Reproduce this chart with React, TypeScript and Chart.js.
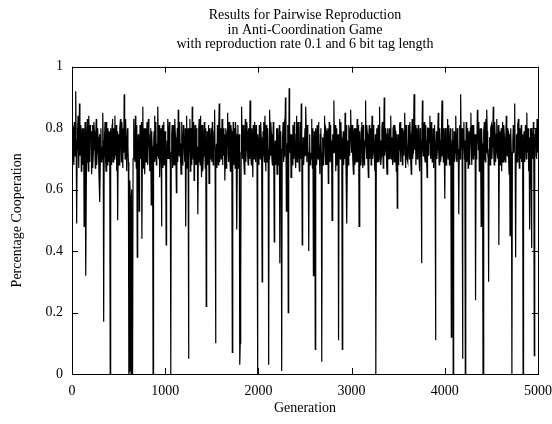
import React, { useEffect, useRef } from "react";
import { Chart, registerables } from "chart.js";

Chart.register(...registerables);

// Percentage cooperation read at generations 0, 10, 20, ... (per 500-generation block)
const gen0000: number[] = [
  0.72, 0.81, 0.68, 0.77, 0.92, 0.49, 0.79, 0.70, 0.88, 0.74,
  0.66, 0.80, 0.75, 0.48, 0.82, 0.32, 0.78, 0.71, 0.84, 0.69,
  0.76, 0.65, 0.81, 0.73, 0.79, 0.67, 0.83, 0.72, 0.77, 0.64,
  0.56, 0.80, 0.74, 0.85, 0.17, 0.78, 0.70, 0.82, 0.68, 0.76,
  0.79, 0.00, 0.75, 0.81, 0.69, 0.77, 0.84, 0.71, 0.66, 0.50,
];
const gen0500: number[] = [
  0.78, 0.72, 0.83, 0.69, 0.75, 0.80, 0.91, 0.70, 0.77, 0.66,
  0.74, 0.00, 0.63, 0.02, 0.60, 0.00, 0.79, 0.72, 0.84, 0.67,
  0.38, 0.78, 0.53, 0.81, 0.70, 0.44, 0.87, 0.73, 0.65, 0.80,
  0.76, 0.68, 0.83, 0.71, 0.78, 0.55, 0.74, 0.00, 0.79, 0.69,
  0.82, 0.75, 0.87, 0.70, 0.64, 0.77, 0.48, 0.81, 0.73, 0.68,
];
const gen1000: number[] = [
  0.79, 0.42, 0.76, 0.83, 0.70, 0.74, 0.00, 0.78, 0.67, 0.81,
  0.72, 0.77, 0.59, 0.80, 0.86, 0.71, 0.75, 0.65, 0.82, 0.73,
  0.78, 0.69, 0.48, 0.84, 0.74, 0.05, 0.79, 0.66, 0.76, 0.87,
  0.70, 0.63, 0.81, 0.75, 0.68, 0.52, 0.80, 0.72, 0.84, 0.64,
  0.77, 0.71, 0.82, 0.67, 0.22, 0.79, 0.73, 0.62, 0.80, 0.76,
];
const gen1500: number[] = [
  0.69, 0.78, 0.72, 0.86, 0.10, 0.75, 0.81, 0.68, 0.88, 0.74,
  0.70, 0.83, 0.77, 0.71, 0.63, 0.80, 0.73, 0.85, 0.69, 0.76,
  0.66, 0.79, 0.07, 0.82, 0.72, 0.67, 0.78, 0.47, 0.81, 0.74,
  0.03, 0.29, 0.87, 0.70, 0.77, 0.65, 0.83, 0.73, 0.79, 0.68,
  0.75, 0.89, 0.71, 0.80, 0.64, 0.76, 0.82, 0.69, 0.78, 0.00,
];
const gen2000: number[] = [
  0.74, 0.81, 0.70, 0.77, 0.30, 0.79, 0.72, 0.84, 0.66, 0.75,
  0.80, 0.03, 0.86, 0.71, 0.78, 0.68, 0.82, 0.43, 0.76, 0.73,
  0.65, 0.80, 0.74, 0.36, 0.79, 0.01, 0.77, 0.69, 0.83, 0.90,
  0.53, 0.75, 0.20, 0.93, 0.72, 0.64, 0.78, 0.81, 0.70, 0.76,
  0.67, 0.84, 0.73, 0.79, 0.66, 0.82, 0.88, 0.42, 0.77, 0.71,
];
const gen2500: number[] = [
  0.80, 0.87, 0.69, 0.75, 0.40, 0.78, 0.72, 0.83, 0.67, 0.32,
  0.79, 0.08, 0.74, 0.81, 0.70, 0.76, 0.65, 0.80, 0.04, 0.77,
  0.73, 0.84, 0.68, 0.79, 0.71, 0.62, 0.82, 0.75, 0.69, 0.50,
  0.78, 0.89, 0.72, 0.66, 0.80, 0.74, 0.11, 0.83, 0.70, 0.77,
  0.08, 0.79, 0.73, 0.85, 0.67, 0.49, 0.76, 0.81, 0.71, 0.86,
];
const gen3000: number[] = [
  0.72, 0.78, 0.65, 0.80, 0.74, 0.69, 0.83, 0.76, 0.48, 0.79,
  0.71, 0.82, 0.67, 0.77, 0.73, 0.89, 0.70, 0.78, 0.64, 0.81,
  0.75, 0.68, 0.84, 0.72, 0.79, 0.66, 0.00, 0.80, 0.74, 0.69,
  0.87, 0.76, 0.71, 0.82, 0.67, 0.90, 0.73, 0.78, 0.65, 0.80,
  0.75, 0.70, 0.84, 0.77, 0.68, 0.81, 0.72, 0.79, 0.66, 0.54,
];
const gen3500: number[] = [
  0.78, 0.73, 0.82, 0.69, 0.76, 0.80, 0.71, 0.85, 0.67, 0.77,
  0.74, 0.81, 0.70, 0.78, 0.65, 0.83, 0.72, 0.91, 0.75, 0.68,
  0.80, 0.73, 0.79, 0.66, 0.77, 0.36, 0.89, 0.71, 0.82, 0.69,
  0.76, 0.64, 0.80, 0.74, 0.84, 0.70, 0.78, 0.72, 0.67, 0.81,
  0.11, 0.79, 0.73, 0.85, 0.68, 0.76, 0.71, 0.89, 0.74, 0.80,
];
const gen4000: number[] = [
  0.57, 0.78, 0.70, 0.83, 0.75, 0.68, 0.80, 0.12, 0.76, 0.00,
  0.79, 0.72, 0.84, 0.69, 0.77, 0.52, 0.81, 0.91, 0.73, 0.05,
  0.78, 0.70, 0.00, 0.82, 0.74, 0.67, 0.79, 0.72, 0.85, 0.68,
  0.76, 0.81, 0.71, 0.24, 0.78, 0.86, 0.73, 0.66, 0.80, 0.48,
  0.75, 0.00, 0.79, 0.70, 0.83, 0.86, 0.72, 0.30, 0.77, 0.69,
];
const gen4500: number[] = [
  0.81, 0.74, 0.87, 0.68, 0.78, 0.72, 0.83, 0.70, 0.42, 0.79,
  0.75, 0.66, 0.82, 0.73, 0.77, 0.69, 0.84, 0.71, 0.79, 0.65,
  0.45, 0.80, 0.00, 0.76, 0.72, 0.88, 0.38, 0.78, 0.70, 0.83,
  0.67, 0.76, 0.81, 0.73, 0.00, 0.79, 0.69, 0.77, 0.85, 0.72,
  0.66, 0.47, 0.80, 0.41, 0.75, 0.82, 0.06, 0.78, 0.71, 0.83,
  0.72,
];

// Percentage cooperation read at generations 5, 15, 25, ... (per 500-generation block)
const mid0000: number[] = [
  0.69, 0.79, 0.82, 0.71, 0.76, 0.73, 0.84, 0.67, 0.71, 0.81,
  0.72, 0.68, 0.80, 0.70, 0.73, 0.69, 0.83, 0.66, 0.77, 0.81,
  0.79, 0.70, 0.67, 0.82, 0.74, 0.78, 0.68, 0.80, 0.71, 0.78,
  0.72, 0.69, 0.70, 0.76, 0.71, 0.82, 0.66, 0.75, 0.80, 0.69,
  0.72, 0.80, 0.68, 0.83, 0.80, 0.70, 0.76, 0.81, 0.79, 0.71,
];
const mid0500: number[] = [
  0.68, 0.80, 0.74, 0.82, 0.67, 0.72, 0.79, 0.83, 0.71, 0.80,
  0.69, 0.01, 0.58, 0.00, 0.04, 0.70, 0.83, 0.69, 0.76, 0.81,
  0.70, 0.73, 0.68, 0.77, 0.82, 0.71, 0.67, 0.80, 0.74, 0.69,
  0.82, 0.72, 0.78, 0.66, 0.80, 0.79, 0.70, 0.73, 0.84, 0.72,
  0.68, 0.71, 0.78, 0.81, 0.70, 0.80, 0.69, 0.67, 0.82, 0.75,
];
const mid1000: number[] = [
  0.71, 0.68, 0.70, 0.77, 0.82, 0.68, 0.72, 0.81, 0.73, 0.68,
  0.83, 0.70, 0.76, 0.69, 0.78, 0.82, 0.70, 0.79, 0.68, 0.81,
  0.72, 0.80, 0.71, 0.67, 0.80, 0.70, 0.83, 0.80, 0.68, 0.76,
  0.82, 0.71, 0.68, 0.80, 0.74, 0.69, 0.83, 0.68, 0.72, 0.81,
  0.66, 0.78, 0.73, 0.80, 0.70, 0.68, 0.81, 0.76, 0.70, 0.80,
];
const mid1500: number[] = [
  0.82, 0.68, 0.79, 0.72, 0.70, 0.67, 0.74, 0.81, 0.69, 0.80,
  0.73, 0.68, 0.80, 0.78, 0.71, 0.67, 0.79, 0.72, 0.82, 0.71,
  0.81, 0.70, 0.74, 0.68, 0.80, 0.82, 0.70, 0.73, 0.67, 0.78,
  0.10, 0.72, 0.75, 0.81, 0.70, 0.78, 0.69, 0.82, 0.71, 0.80,
  0.70, 0.76, 0.68, 0.73, 0.81, 0.70, 0.74, 0.81, 0.70, 0.78,
];
const mid2000: number[] = [
  0.68, 0.76, 0.82, 0.71, 0.70, 0.82, 0.69, 0.74, 0.81, 0.69,
  0.73, 0.70, 0.78, 0.82, 0.70, 0.76, 0.70, 0.72, 0.68, 0.80,
  0.73, 0.68, 0.81, 0.72, 0.70, 0.73, 0.82, 0.71, 0.74, 0.80,
  0.70, 0.81, 0.68, 0.80, 0.78, 0.70, 0.68, 0.77, 0.82, 0.70,
  0.78, 0.69, 0.82, 0.71, 0.74, 0.70, 0.75, 0.70, 0.68, 0.75,
];
const mid2500: number[] = [
  0.71, 0.78, 0.81, 0.70, 0.72, 0.68, 0.70, 0.74, 0.80, 0.71,
  0.73, 0.80, 0.68, 0.73, 0.82, 0.70, 0.78, 0.72, 0.71, 0.68,
  0.78, 0.72, 0.80, 0.68, 0.80, 0.73, 0.69, 0.81, 0.76, 0.70,
  0.72, 0.76, 0.81, 0.72, 0.68, 0.78, 0.70, 0.74, 0.82, 0.70,
  0.72, 0.68, 0.70, 0.78, 0.81, 0.70, 0.68, 0.74, 0.80, 0.77,
];
const mid3000: number[] = [
  0.81, 0.70, 0.79, 0.68, 0.80, 0.77, 0.69, 0.81, 0.72, 0.68,
  0.80, 0.70, 0.81, 0.68, 0.76, 0.74, 0.81, 0.69, 0.78, 0.70,
  0.80, 0.78, 0.70, 0.81, 0.70, 0.78, 0.72, 0.69, 0.81, 0.78,
  0.70, 0.68, 0.80, 0.72, 0.79, 0.71, 0.80, 0.69, 0.78, 0.70,
  0.80, 0.77, 0.70, 0.73, 0.80, 0.69, 0.81, 0.70, 0.78, 0.70,
];
const mid3500: number[] = [
  0.68, 0.81, 0.70, 0.80, 0.68, 0.74, 0.79, 0.72, 0.81, 0.70,
  0.69, 0.73, 0.82, 0.69, 0.78, 0.70, 0.79, 0.73, 0.81, 0.78,
  0.70, 0.81, 0.69, 0.80, 0.72, 0.70, 0.74, 0.80, 0.70, 0.81,
  0.70, 0.80, 0.71, 0.78, 0.72, 0.82, 0.69, 0.80, 0.77, 0.72,
  0.70, 0.70, 0.80, 0.72, 0.80, 0.69, 0.80, 0.71, 0.69, 0.70,
];
const mid4000: number[] = [
  0.80, 0.68, 0.80, 0.70, 0.81, 0.74, 0.70, 0.72, 0.80, 0.70,
  0.69, 0.81, 0.70, 0.80, 0.71, 0.73, 0.70, 0.78, 0.80, 0.71,
  0.82, 0.76, 0.71, 0.69, 0.80, 0.73, 0.68, 0.80, 0.72, 0.81,
  0.70, 0.74, 0.78, 0.70, 0.72, 0.80, 0.82, 0.71, 0.70, 0.80,
  0.72, 0.71, 0.82, 0.69, 0.72, 0.79, 0.70, 0.73, 0.68, 0.80,
];
const mid4500: number[] = [
  0.70, 0.79, 0.72, 0.82, 0.69, 0.76, 0.71, 0.81, 0.72, 0.68,
  0.80, 0.74, 0.69, 0.81, 0.70, 0.78, 0.72, 0.80, 0.70, 0.78,
  0.72, 0.70, 0.72, 0.81, 0.79, 0.72, 0.70, 0.69, 0.81, 0.73,
  0.80, 0.70, 0.69, 0.78, 0.71, 0.73, 0.81, 0.70, 0.74, 0.80,
  0.77, 0.70, 0.68, 0.80, 0.70, 0.71, 0.73, 0.80, 0.70, 0.78,
];

const onTens: number[] = [
  ...gen0000, ...gen0500, ...gen1000, ...gen1500, ...gen2000,
  ...gen2500, ...gen3000, ...gen3500, ...gen4000, ...gen4500,
];
const onFives: number[] = [
  ...mid0000, ...mid0500, ...mid1000, ...mid1500, ...mid2000,
  ...mid2500, ...mid3000, ...mid3500, ...mid4000, ...mid4500,
];

const titleLines = [
  "Results for Pairwise Reproduction",
  "in Anti-Coordination Game",
  "with reproduction rate 0.1 and 6 bit tag length",
];
const xTitle = "Generation";
const yTitle = "Percentage Cooperation";

const SERIF = "'Liberation Serif', 'DejaVu Serif', serif";

function buildSeries() {
  const pts: { x: number; y: number }[] = [];
  for (let i = 0; i < onTens.length; i++) {
    pts.push({ x: i * 10, y: onTens[i] });
    if (i < onFives.length) pts.push({ x: i * 10 + 5, y: onFives[i] });
  }
  return pts;
}

const frameTicks = {
  id: "frameTicks",
  afterDatasetsDraw(chart: any) {
    const { ctx, chartArea, scales } = chart;
    const { left, right, top, bottom } = chartArea;
    const len = 6;
    ctx.save();
    ctx.strokeStyle = "#000";
    ctx.lineWidth = 1;
    ctx.beginPath();
    for (const t of scales.y.ticks) {
      const py = Math.round(scales.y.getPixelForValue(t.value)) + 0.5;
      ctx.moveTo(left, py);
      ctx.lineTo(left + len, py);
      ctx.moveTo(right, py);
      ctx.lineTo(right - len, py);
    }
    for (const t of scales.x.ticks) {
      const px = Math.round(scales.x.getPixelForValue(t.value)) + 0.5;
      ctx.moveTo(px, bottom);
      ctx.lineTo(px, bottom - len);
      ctx.moveTo(px, top);
      ctx.lineTo(px, top + len);
    }
    ctx.stroke();
    ctx.strokeRect(Math.round(left) + 0.5, Math.round(top) + 0.5, Math.round(right - left), Math.round(bottom - top));
    ctx.restore();
  },
};

export default function App() {
  const ref = useRef<HTMLCanvasElement | null>(null);
  useEffect(() => {
    if (!ref.current) return;
    const chart = new Chart(ref.current, {
      type: "line",
      data: {
        datasets: [
          {
            data: buildSeries(),
            borderColor: "#000",
            borderWidth: 1.2,
            pointRadius: 0,
            tension: 0,
            fill: false,
          },
        ],
      },
      options: {
        responsive: false,
        animation: false,
        devicePixelRatio: 1,
        layout: { padding: { left: 0, right: 14, top: 0, bottom: 0 } },
        plugins: {
          legend: { display: false },
          tooltip: { enabled: false },
          title: {
            display: true,
            text: titleLines,
            fullSize: false,
            color: "#000",
            font: { family: SERIF, size: 14, weight: "normal", lineHeight: 1.04 },
            padding: { top: 8, bottom: 15 },
          },
        },
        scales: {
          x: {
            type: "linear",
            min: 0,
            max: 5000,
            grid: { display: false, drawTicks: false },
            border: { display: false },
            ticks: {
              stepSize: 1000,
              color: "#000",
              padding: 9,
              maxRotation: 0,
              font: { family: SERIF, size: 14 },
              callback: (v: any) => String(v),
            },
            title: {
              display: true,
              text: xTitle,
              color: "#000",
              font: { family: SERIF, size: 14 },
              padding: { top: 0, bottom: 7 },
            },
            afterFit: (s: any) => {
              s.height = 50;
              s.paddingLeft = 0;
              s.paddingRight = 0;
            },
          },
          y: {
            min: 0,
            max: 1,
            grid: { display: false, drawTicks: false },
            border: { display: false },
            ticks: {
              stepSize: 0.2,
              color: "#000",
              padding: 9,
              font: { family: SERIF, size: 14 },
              callback: (v: any) => String(Number(Number(v).toFixed(1))),
            },
            title: {
              display: true,
              text: yTitle,
              color: "#000",
              font: { family: SERIF, size: 14 },
              padding: { top: 9, bottom: 0 },
            },
            afterFit: (s: any) => {
              s.width = 72;
              s.paddingTop = 0;
              s.paddingBottom = 0;
            },
          },
        },
      },
      plugins: [frameTicks],
    });
    return () => chart.destroy();
  }, []);
  return (
    <div style={{ position: "absolute", left: 0, top: 0, width: 552, height: 424, background: "#fff" }}>
      <canvas ref={ref} width={552} height={424} />
    </div>
  );
}
